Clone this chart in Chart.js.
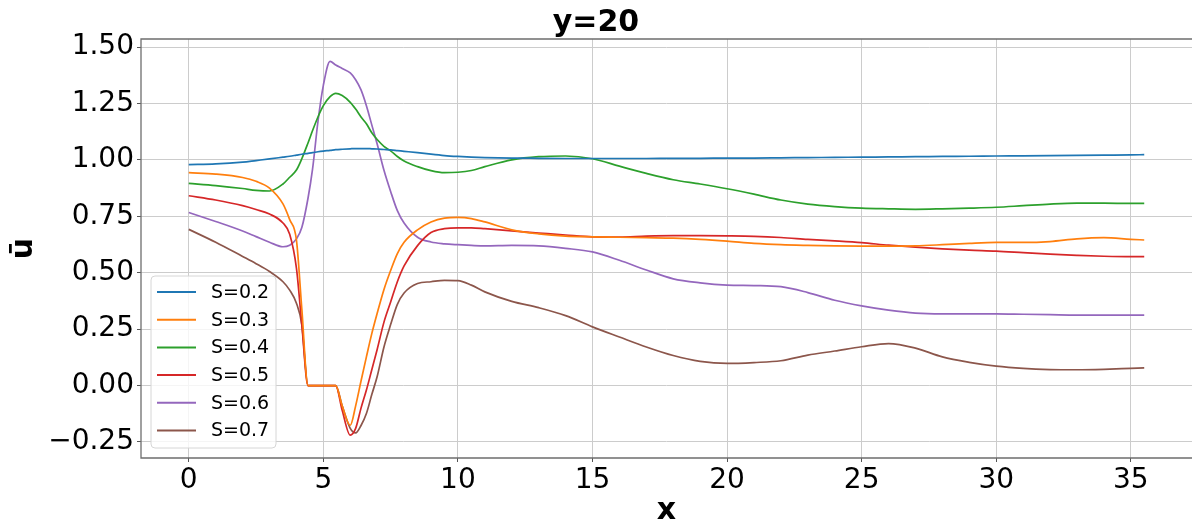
<!DOCTYPE html>
<html>
<head>
<meta charset="utf-8">
<script src="https://cdn.jsdelivr.net/npm/chart.js@4.4.1/dist/chart.umd.min.js"></script>
<style>
  html, body { margin: 0; padding: 0; background: #fff; }
  #wrap { width: 1192px; height: 523px; }
</style>
</head>
<body>
<div id="wrap"><canvas id="chart"></canvas></div>
<script>
// x positions along the line (same for every S)
var xs = [0, 1, 2, 2.5, 3, 3.5, 3.75, 4,
  4.2, 4.43, 4.6, 4.8, 5, 5.25, 5.46, 5.7,
  6, 6.2, 6.4, 6.6, 6.8, 7, 7.25, 7.5,
  7.75, 8, 8.5, 9, 9.5, 10, 10.5, 11,
  12, 13, 14, 15, 16, 17, 18, 19, 20, 21, 22, 23,
  24, 25, 26, 27, 28, 29, 30, 31, 32, 33, 34, 35,
  35.5];

var labels = ['S=0.2', 'S=0.3', 'S=0.4', 'S=0.5', 'S=0.6', 'S=0.7'];
var colors = ['#1f77b4', '#ff7f0e', '#2ca02c', '#d62728', '#9467bd', '#8c564b'];

var s02 = [0.979, 0.982, 0.990, 0.997, 1.004, 1.012, 1.016, 1.021,
  1.025, 1.029, 1.032, 1.036, 1.039, 1.042, 1.045, 1.047,
  1.049, 1.050, 1.050, 1.050, 1.049, 1.048, 1.046, 1.044,
  1.041, 1.038, 1.032, 1.025, 1.019, 1.015, 1.012, 1.010,
  1.008, 1.007, 1.006, 1.006, 1.006, 1.006, 1.007, 1.007, 1.008, 1.008, 1.009, 1.010,
  1.011, 1.012, 1.013, 1.014, 1.015, 1.016, 1.017, 1.018, 1.019, 1.020, 1.021, 1.022,
  1.023];
var s03 = [0.943, 0.937, 0.922, 0.905, 0.875, 0.805, 0.735, 0.645,
  0.34, 0, 0, 0, 0, 0, 0, -0.09,
  -0.176, -0.09, 0.02, 0.127, 0.23, 0.32, 0.425, 0.51,
  0.585, 0.635, 0.69, 0.725, 0.742, 0.745, 0.740, 0.725,
  0.690, 0.672, 0.662, 0.659, 0.657, 0.655, 0.653, 0.648, 0.640, 0.630, 0.624, 0.621,
  0.619, 0.618, 0.618, 0.619, 0.624, 0.630, 0.634, 0.634, 0.638, 0.650, 0.655, 0.648,
  0.645];
var s04 = [0.896, 0.886, 0.873, 0.865, 0.862, 0.893, 0.923, 0.955,
  1.005, 1.075, 1.13, 1.19, 1.24, 1.28, 1.295, 1.285,
  1.255, 1.225, 1.19, 1.16, 1.12, 1.09, 1.06, 1.04,
  1.015, 0.995, 0.97, 0.952, 0.943, 0.945, 0.953, 0.97,
  1.0, 1.014, 1.017, 1.005, 0.972, 0.94, 0.912, 0.893, 0.872, 0.848, 0.822, 0.804,
  0.793, 0.786, 0.783, 0.781, 0.783, 0.786, 0.79, 0.797, 0.804, 0.808, 0.808, 0.807,
  0.807];
var s05 = [0.841, 0.822, 0.797, 0.78, 0.76, 0.72, 0.67, 0.52,
  0.27, 0, 0, 0, 0, 0, 0, -0.11,
  -0.22, -0.19, -0.10, -0.02, 0.07, 0.16, 0.28, 0.37,
  0.46, 0.53, 0.62, 0.678, 0.695, 0.699, 0.699, 0.695,
  0.685, 0.676, 0.667, 0.659, 0.658, 0.662, 0.664, 0.664, 0.663, 0.661, 0.656, 0.648,
  0.641, 0.633, 0.622, 0.613, 0.606, 0.600, 0.596, 0.589, 0.582, 0.577, 0.573, 0.571,
  0.571];
var s06 = [0.767, 0.727, 0.685, 0.66, 0.635, 0.615, 0.622, 0.65,
  0.70, 0.83, 0.96, 1.17, 1.33, 1.436, 1.42, 1.405,
  1.385, 1.355, 1.31, 1.24, 1.155, 1.07, 0.955, 0.86,
  0.775, 0.72, 0.657, 0.636, 0.628, 0.624, 0.621, 0.619,
  0.621, 0.619, 0.608, 0.592, 0.555, 0.512, 0.473, 0.455, 0.445, 0.443, 0.438, 0.412,
  0.378, 0.353, 0.334, 0.321, 0.318, 0.318, 0.318, 0.316, 0.314, 0.312, 0.312, 0.312,
  0.312];
var s07 = [0.692, 0.635, 0.572, 0.54, 0.505, 0.46, 0.423, 0.365,
  0.27, 0, 0, 0, 0, 0, 0, -0.09,
  -0.19, -0.21, -0.177, -0.124, -0.04, 0.04, 0.17, 0.27,
  0.36, 0.41, 0.452, 0.46, 0.466, 0.465, 0.445, 0.415,
  0.373, 0.345, 0.31, 0.26, 0.215, 0.171, 0.133, 0.107, 0.098, 0.102, 0.11, 0.135,
  0.153, 0.172, 0.186, 0.166, 0.127, 0.103, 0.086, 0.076, 0.071, 0.07, 0.072, 0.076,
  0.078];

var series = [s02, s03, s04, s05, s06, s07];
var xTicks = [0, 5, 10, 15, 20, 25, 30, 35];
var yTicks = [-0.25, 0, 0.25, 0.5, 0.75, 1.0, 1.25, 1.5];

Chart.defaults.font.family = "'DejaVu Sans', sans-serif";
Chart.defaults.color = '#000';

var datasets = series.map(function (s, i) {
  return {
    label: labels[i],
    data: s.map(function (v, j) { return { x: xs[j], y: v }; }),
    borderColor: colors[i],
    backgroundColor: colors[i],
    borderWidth: 1.7,
    pointRadius: 0,
    fill: false,
    cubicInterpolationMode: 'monotone'
  };
});

// spines (left, top, bottom) + legend box in lower left, like matplotlib
var frameAndLegend = {
  id: 'frameAndLegend',
  afterDatasetsDraw: function (chart) {
    var ctx = chart.ctx, a = chart.chartArea;
    ctx.save();
    ctx.strokeStyle = '#6e6e6e';
    ctx.lineWidth = 1.3;
    ctx.beginPath();
    ctx.moveTo(a.right, a.top);
    ctx.lineTo(a.left, a.top);
    ctx.lineTo(a.left, a.bottom);
    ctx.lineTo(a.right, a.bottom);
    ctx.stroke();

    var ds = chart.data.datasets;
    var rowH = 27.7, bw = 125, bh = 172;
    var bx = a.left + 10, by = a.bottom - 10 - bh;
    ctx.beginPath();
    ctx.roundRect(bx, by, bw, bh, 4);
    ctx.fillStyle = 'rgba(255,255,255,0.8)';
    ctx.fill();
    ctx.strokeStyle = '#d6d6d6';
    ctx.lineWidth = 1;
    ctx.stroke();
    ctx.font = '19px "DejaVu Sans"';
    ctx.textBaseline = 'middle';
    ctx.textAlign = 'left';
    ds.forEach(function (d, i) {
      var cy = by + 16 + i * rowH;
      ctx.strokeStyle = d.borderColor;
      ctx.lineWidth = 2;
      ctx.beginPath();
      ctx.moveTo(bx + 6, cy);
      ctx.lineTo(bx + 45, cy);
      ctx.stroke();
      ctx.fillStyle = '#000';
      ctx.fillText(d.label, bx + 60, cy + 1);
    });
    ctx.restore();
  }
};

new Chart(document.getElementById('chart'), {
  type: 'line',
  data: { datasets: datasets },
  options: {
    responsive: true,
    maintainAspectRatio: false,
    animation: false,
    devicePixelRatio: 1,
    layout: { padding: 0 },
    plugins: {
      legend: { display: false },
      tooltip: { enabled: false },
      title: {
        display: true,
        text: 'y=20',
        font: { size: 30, weight: 'bold' },
        color: '#000',
        padding: { top: 5, bottom: -2 }
      }
    },
    scales: {
      x: {
        type: 'linear',
        min: -1.775,
        max: 37.275,
        afterBuildTicks: function (s) { s.ticks = xTicks.map(function (v) { return { value: v }; }); },
        afterFit: function (s) { s.height = 65; },
        ticks: {
          font: { size: 28 },
          color: '#000',
          padding: 2,
          maxRotation: 0,
          autoSkip: false,
          callback: function (v) { return String(v); }
        },
        grid: { color: '#cccccc', lineWidth: 1, tickColor: '#555', tickLength: 4 },
        border: { display: false },
        title: {
          display: true,
          text: 'x',
          font: { size: 30, weight: 'bold' },
          color: '#000',
          padding: { top: 0, bottom: -6 }
        }
      },
      y: {
        type: 'linear',
        min: -0.321,
        max: 1.5355,
        afterBuildTicks: function (s) { s.ticks = yTicks.map(function (v) { return { value: v }; }); },
        afterFit: function (s) { s.width = 141; },
        ticks: {
          font: { size: 28 },
          color: '#000',
          padding: 3,
          callback: function (v) {
            return (v < 0 ? '\u2212' : '') + Math.abs(v).toFixed(2);
          }
        },
        grid: { color: '#cccccc', lineWidth: 1, tickColor: '#555', tickLength: 4 },
        border: { display: false },
        title: {
          display: true,
          text: 'ū',
          font: { size: 30, weight: 'bold' },
          color: '#000',
          padding: { top: 6, bottom: 0 }
        }
      }
    }
  },
  plugins: [frameAndLegend]
});
</script>
</body>
</html>
